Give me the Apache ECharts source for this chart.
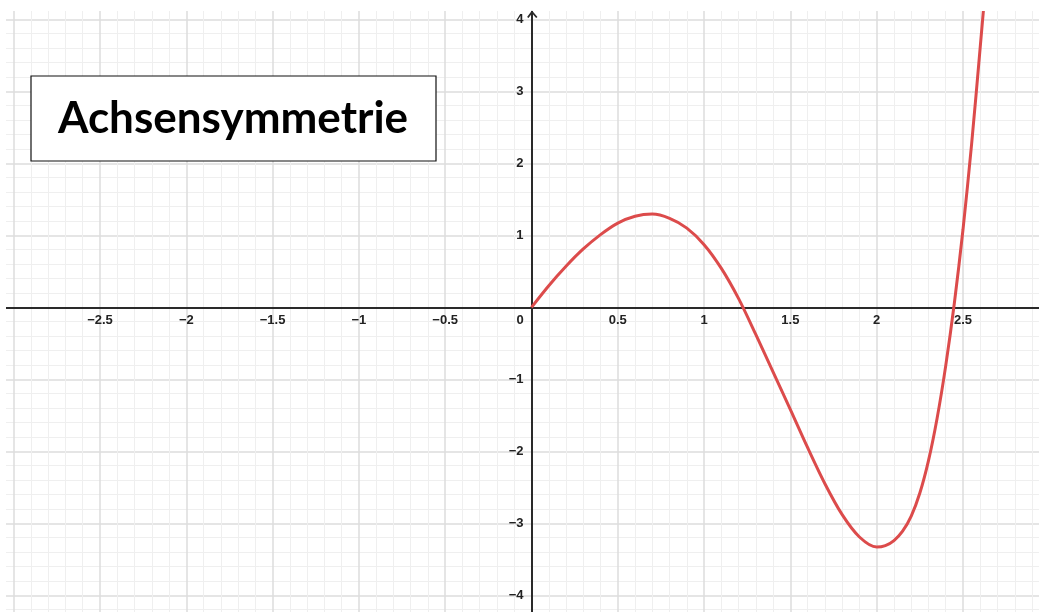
<!DOCTYPE html>
<html>
<head>
<meta charset="utf-8">
<script src="https://cdn.jsdelivr.net/npm/echarts@6/dist/echarts.min.js"></script>
<style>
  html, body { margin: 0; padding: 0; background: #fff; }
  #chart { width: 1039px; height: 612px; }
</style>
</head>
<body>
<div id="chart"></div>
<script>
// curve (x, f(x))
const curveX = [0, 0.1, 0.2, 0.3, 0.4, 0.5, 0.6, 0.7, 0.8, 0.9, 1.0, 1.1, 1.2, 1.3, 1.4, 1.5, 1.6, 1.7, 1.8, 1.9, 2.0, 2.05, 2.1, 2.15, 2.2, 2.25, 2.3, 2.35, 2.4, 2.45, 2.5, 2.55, 2.6, 2.65]
const curveY = [0, 0.30, 0.57, 0.81, 1.01, 1.17, 1.265, 1.295, 1.235, 1.10, 0.87, 0.54, 0.12, -0.38, -0.90, -1.42, -1.95, -2.45, -2.88, -3.19, -3.33, -3.31, -3.24, -3.11, -2.90, -2.58, -2.13, -1.54, -0.81, 0.06, 1.08, 2.27, 3.62, 5.0]

// labelled ticks
const xLabels = [-2.5, -2, -1.5, -1, -0.5, 0, 0.5, 1, 1.5, 2, 2.5]
const yLabels = [-4, -3, -2, -1, 1, 2, 3, 4]

const title = 'Achsensymmetrie'

const fmt = v => String(v).replace('-', '\u2212')
const has = (list, v) => list.some(t => Math.abs(t - v) < 1e-6)

const labelFont = {
  color: '#222',
  fontFamily: 'Liberation Sans',
  fontWeight: 'bold',
  fontSize: 13
}
const axisLineStyle = { color: '#2a2a2a', width: 2 }

// plot frame (extends past the window so that min/max fall on whole ticks)
const frame = { left: -72.6, right: -10.3, top: -52.7, bottom: -55.3 }
const zeroX = 531.5
const zeroY = 307.3

const option = {
  backgroundColor: '#fff',
  animation: false,
  grid: [
    { ...frame, outerBoundsMode: 'none', containLabel: false },
    // x axis drawn along y = 0
    { left: frame.left, right: frame.right, top: zeroY - 20, bottom: 612 - zeroY, outerBoundsMode: 'none', containLabel: false },
    // y axis drawn along x = 0
    { left: zeroX, right: 1039 - zeroX - 20, top: frame.top, bottom: frame.bottom, outerBoundsMode: 'none', containLabel: false }
  ],
  xAxis: [
    {
      gridIndex: 0, type: 'value', min: -3.5, max: 3, interval: 0.5,
      axisLine: { show: false }, axisTick: { show: false }, axisLabel: { show: false },
      minorTick: { show: false, splitNumber: 5 },
      splitLine: { lineStyle: { color: '#dcdcdc', width: 1.5 } },
      minorSplitLine: { show: true, lineStyle: { color: '#efefef', width: 1 } }
    },
    {
      gridIndex: 1, type: 'value', min: -3.5, max: 3, interval: 0.5, position: 'bottom',
      axisLine: { onZero: false, lineStyle: axisLineStyle },
      axisTick: { show: false }, splitLine: { show: false },
      axisLabel: {
        ...labelFont,
        margin: 7,
        formatter: v => {
          if (!has(xLabels, v)) return ''
          if (v === 0) return '{z|0}'
          return fmt(v)
        },
        rich: { z: { ...labelFont, padding: [0, 23, 0, 0] } }
      }
    },
    { gridIndex: 2, type: 'value', show: false, min: 0, max: 1 }
  ],
  yAxis: [
    {
      gridIndex: 0, type: 'value', min: -5, max: 5, interval: 1,
      axisLine: { show: false }, axisTick: { show: false }, axisLabel: { show: false },
      minorTick: { show: false, splitNumber: 5 },
      splitLine: { lineStyle: { color: '#dcdcdc', width: 1.5 } },
      minorSplitLine: { show: true, lineStyle: { color: '#efefef', width: 1 } }
    },
    { gridIndex: 1, type: 'value', show: false, min: 0, max: 1 },
    {
      gridIndex: 2, type: 'value', min: -5, max: 5, interval: 1, position: 'left',
      axisLine: { onZero: false, lineStyle: axisLineStyle },
      axisTick: { show: false }, splitLine: { show: false },
      axisLabel: {
        ...labelFont,
        margin: 8,
        formatter: v => has(yLabels, v) ? fmt(v) : ''
      }
    }
  ],
  series: [
    {
      type: 'line',
      xAxisIndex: 0,
      yAxisIndex: 0,
      data: curveX.map((x, i) => [x, curveY[i]]),
      smooth: 0.3,
      showSymbol: false,
      lineStyle: { color: '#dc4b4b', width: 3 },
      z: 5
    }
  ],
  graphic: [
    // white margins round the drawing area
    { type: 'rect', z: 100, shape: { x: 0, y: 0, width: 1039, height: 11 }, style: { fill: '#fff' } },
    { type: 'rect', z: 100, shape: { x: 0, y: 0, width: 6, height: 612 }, style: { fill: '#fff' } },
    // arrow head of the y axis
    {
      type: 'polyline', z: 101,
      shape: { points: [[527.8, 17.5], [zeroX + 0.5, 12], [536.8, 17.5]] },
      style: { stroke: '#2a2a2a', lineWidth: 1.8, fill: null }
    },
    {
      type: 'line', z: 101,
      shape: { x1: zeroX + 0.5, y1: 12, x2: zeroX + 0.5, y2: 30 },
      style: { stroke: '#2a2a2a', lineWidth: 2 }
    },
    // title box
    {
      type: 'rect', z: 110,
      shape: { x: 31, y: 76, width: 405, height: 85 },
      style: { fill: '#fff', stroke: '#111', lineWidth: 1.2 }
    },
    {
      type: 'text', z: 111,
      x: 233, y: 119,
      style: {
        text: title,
        font: 'bold 44px Lato',
        fill: '#000',
        align: 'center',
        verticalAlign: 'middle'
      }
    }
  ]
}

const chart = echarts.init(document.getElementById('chart'))
chart.setOption(option)
</script>
</body>
</html>
